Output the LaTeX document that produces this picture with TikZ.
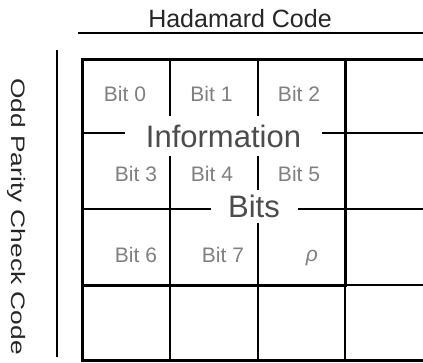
\documentclass[tikz,border=0pt]{standalone}
\usepackage{fontspec}
\setmainfont{Liberation Sans}
\begin{document}
\begin{tikzpicture}[x=1pt,y=-1pt,
  heavy/.style={line width=3pt},
  light/.style={line width=1.3pt},
  bitlabel/.style={anchor=base,text=black!50,font=\fontsize{21}{21}\selectfont,inner sep=0pt},
  biglabel/.style={fill=white,text=black!70,font=\fontsize{31}{31}\selectfont,inner sep=0pt}]
\fill[white] (0,0) rectangle (423,362);
\useasboundingbox (0,0) rectangle (423,362);
% title and rule
\node[anchor=base,text=black!85,font=\fontsize{25}{25}\selectfont,inner sep=0pt] (title) at (240,27) {Hadamard Code};
\coordinate (tl) at (78,33);
\coordinate (tr) at (424,33);
\draw[line width=1.5pt] (tl) -- (tr);
% left label and rule
\node[rotate=-90,anchor=base,text=black!85,font=\fontsize{19.5}{19.5}\selectfont,inner sep=0pt] (side) at (12,216.5) {\scalebox{1.35}[1]{Odd Parity Check Code}};
\coordinate (lt) at (57,50);
\coordinate (lb) at (57,357);
\draw[line width=2pt] (lt) -- (lb);
% thin grid lines
\draw[light] (170,59) -- (170,360);
\draw[light] (258,59) -- (258,360);
\draw[light] (345,285) -- (345,360);
\draw[light] (82,133) -- (424,133);
\draw[light] (82,209) -- (424,209);
\draw[light] (345,285) -- (424,285);
% thick lines
\draw[heavy] (424,59) -- (82,59) -- (82,360) -- (424,360);
\draw[heavy] (345,59) -- (345,285) -- (82,285);
% labels
\node[biglabel,minimum width=197pt,minimum height=40pt] (info) at (223.5,136) {Information};
\node[biglabel,minimum width=87pt,minimum height=33pt] (bits) at (254,206.5) {Bits};
\node[bitlabel] (b0) at (125,101) {Bit 0};
\node[bitlabel] (b1) at (211.5,101) {Bit 1};
\node[bitlabel] (b2) at (299,101) {Bit 2};
\node[bitlabel] (b3) at (136,181) {Bit 3};
\node[bitlabel] (b4) at (212,181) {Bit 4};
\node[bitlabel] (b5) at (299,181) {Bit 5};
\node[bitlabel] (b6) at (136,262) {Bit 6};
\node[bitlabel] (b7) at (223,262) {Bit 7};
\node[bitlabel] (rho) at (312,261) {\textit{ρ}};
\end{tikzpicture}
\end{document}
